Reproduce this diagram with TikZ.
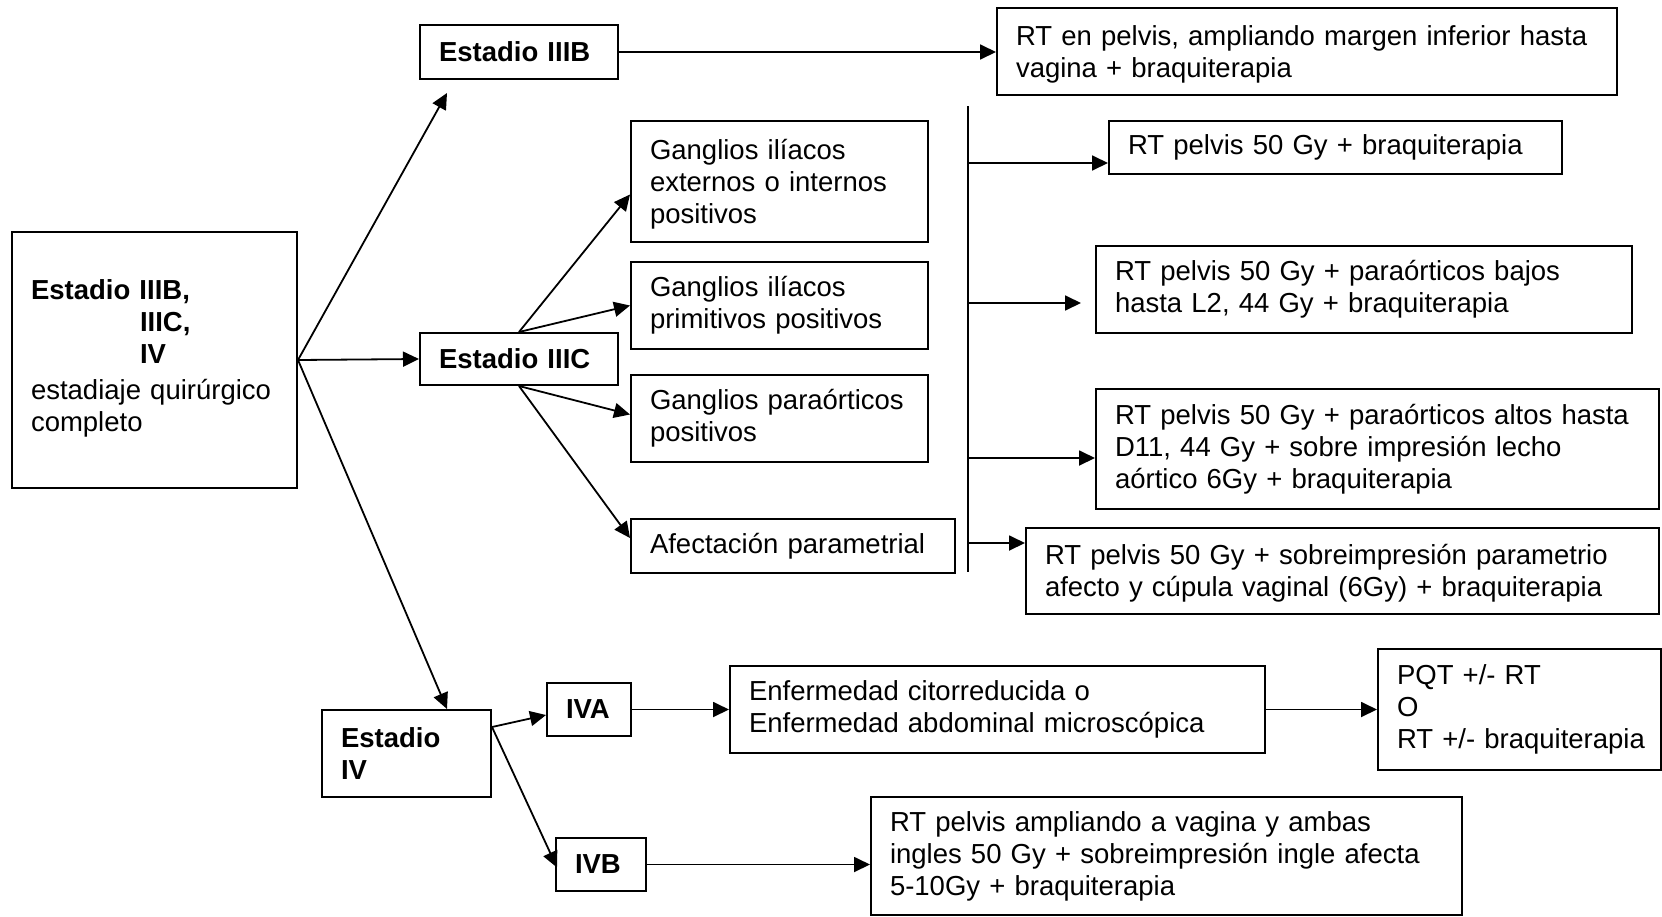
\documentclass[tikz,border=0pt]{standalone}
\usepackage{fontspec}
\setmainfont{Liberation Sans}
\usetikzlibrary{arrows.meta,calc}

\begin{document}
\begin{tikzpicture}[x=1pt,y=-1pt,
  box/.style={draw, line width=2pt, rectangle, anchor=north west,
    inner xsep=19pt, inner ysep=0pt, align=left,
    font=\fontsize{27.5}{32}\selectfont},
  arr/.style={line width=1.8pt, -{Triangle[length=16pt,width=15pt]}},
  bar/.style={line width=1.8pt}]

\fill[white] (0,0) rectangle (1662,916);
\useasboundingbox (0,0) rectangle (1662,916);

% staging boxes
\node[box, text width=247pt, minimum height=256pt] (main) at (11,231)
  {\textbf{Estadio IIIB,}\\\hspace*{109pt}\textbf{IIIC,}\\\hspace*{109pt}\textbf{IV}\\[4pt]\mbox{estadiaje quirúrgico}\\completo\rule[-9pt]{0pt}{0pt}};
\node[box, text width=160pt, minimum height=54pt] (s3b) at (419,24) {\mbox{\textbf{Estadio IIIB}}};
\node[box, text width=160pt, minimum height=52pt] (s3c) at (419,332) {\mbox{\textbf{Estadio IIIC}}};
\node[box, text width=131pt, minimum height=87pt] (s4) at (321,709) {\textbf{Estadio}\\\textbf{IV}};
\node[box, text width=46pt, minimum height=53pt] (s4a) at (546,682) {\mbox{\textbf{IVA}}};
\node[box, text width=52pt, minimum height=53pt] (s4b) at (555,837) {\mbox{\textbf{IVB}}};

% nodal findings for IIIC
\node[box, text width=259pt, minimum height=121pt] (gext) at (630,120) {\rule{0pt}{25pt}Ganglios ilíacos\\externos o internos\\positivos};
\node[box, text width=259pt, minimum height=87pt] (gprim) at (630,261) {Ganglios ilíacos\\primitivos positivos};
\node[box, text width=259pt, minimum height=87pt] (gpara) at (630,374) {\mbox{Ganglios paraórticos}\\positivos};
\node[box, text width=286pt, minimum height=54pt] (param) at (630,518) {\mbox{Afectación parametrial}};

% treatments
\node[box, text width=582pt, minimum height=87pt] (rtvag) at (996,7)
  {\rule{0pt}{26.5pt}\mbox{RT en pelvis, ampliando margen inferior hasta}\\vagina + braquiterapia};
\node[box, text width=415pt, minimum height=53pt] (rt50) at (1108,120) {RT pelvis 50 Gy + braquiterapia};
\node[box, text width=498pt, minimum height=87pt] (rtbajos) at (1095,245)
  {RT pelvis 50 Gy + paraórticos bajos\\hasta L2, 44 Gy + braquiterapia};
\node[box, text width=525pt, minimum height=120pt] (rtaltos) at (1095,388)
  {\mbox{RT pelvis 50 Gy + paraórticos altos hasta}\\D11, 44 Gy + sobre impresión lecho\\aórtico 6Gy + braquiterapia};
\node[box, text width=595pt, minimum height=86pt] (rtparam) at (1025,527)
  {\rule{0pt}{25pt}\mbox{RT pelvis 50 Gy + sobreimpresión parametrio}\\\mbox{afecto y cúpula vaginal (6Gy) + braquiterapia}};
\node[box, text width=497pt, minimum height=87pt] (enf) at (729,665)
  {Enfermedad citorreducida o\\\mbox{Enfermedad abdominal microscópica}};
\node[box, text width=245pt, minimum height=121pt] (pqt) at (1377,648)
  {PQT +/- RT\\O\\\mbox{RT +/- braquiterapia}};
\node[box, text width=553pt, minimum height=118pt] (rtingle) at (870,796)
  {RT pelvis ampliando a vagina y ambas\\\mbox{ingles 50 Gy + sobreimpresión ingle afecta}\\5-10Gy + braquiterapia};

% from the initial box
\coordinate (t3b) at (447,93);
\coordinate (t4) at (447,709);
\draw[arr] (main.east) -- (t3b);
\draw[arr] (main.east) -- (s3c.west);
\draw[arr] (main.east) -- (t4);
\draw[arr] (s3b.east) -- (s3b.east -| rtvag.west);

% IIIC branches
\draw[arr] (s3c.north) -- ($(gext.west)+(0,13)$);
\draw[arr] (s3c.north) -- (gprim.west);
\draw[arr] (s3c.south) -- ($(gpara.west)+(0,-4)$);
\draw[arr] (s3c.south) -- ($(param.west)+(0,-8)$);

% collecting bar and treatment arrows
\coordinate (bartop) at (968,106);
\coordinate (barbot) at (968,572);
\draw[bar] (bartop) -- (barbot);
\coordinate (b1) at (968,163);
\coordinate (b2) at (968,303);
\coordinate (t2) at (1081,303);
\coordinate (b3) at (968,458);
\coordinate (b4) at (968,543);
\draw[arr] (b1) -- (b1 -| rt50.west);
\draw[arr] (b2) -- (t2);
\draw[arr] (b3) -- (b3 -| rtaltos.west);
\draw[arr] (b4) -- (b4 -| rtparam.west);

% stage IV
\coordinate (s4out) at ($(s4.north east)+(0,18)$);
\draw[arr] (s4out) -- ($(s4a.west)+(0,5.5)$);
\draw[arr] (s4out) -- ($(s4b.west)+(2,3)$);
\draw[arr] (s4a.east) -- (enf.west);
\draw[arr] (enf.east) -- (pqt.west);
\draw[arr] (s4b.east) -- (s4b.east -| rtingle.west);

\end{tikzpicture}
\end{document}
